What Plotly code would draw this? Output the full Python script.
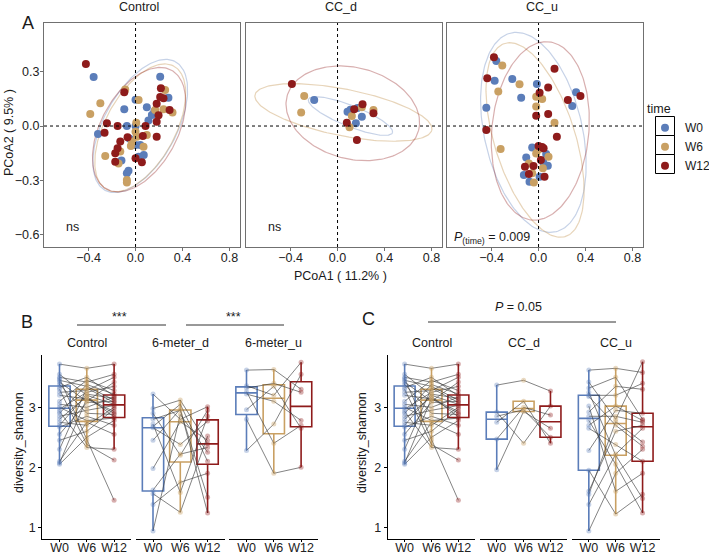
import numpy as np
import plotly.graph_objects as go

W, H = 709, 554
FONT = "Liberation Sans, Arial, sans-serif"
TIMES = ["W0", "W6", "W12"]
COLORS = ["#5B7DB9", "#C9A063", "#8E1B1B"]
ELL_COLORS = ["rgba(91,125,185,0.35)", "rgba(201,160,99,0.45)", "rgba(142,27,27,0.35)"]
PT_COLORS = ["rgba(91,125,185,0.35)", "rgba(201,160,99,0.4)", "rgba(142,27,27,0.35)"]

# ---------------- Panel A: PCoA ----------------
PCOA_GROUPS = ["Control", "CC_d", "CC_u"]

control_w0_x = [-0.357, -0.32, -0.074, 0.0, -0.096, 0.0, 0.096, 0.21, 0.28, 0.139, 0.11, 0.16, 0.0, 0.04, -0.06, -0.074, 0.026, 0.07, -0.12, -0.05]
control_w0_y = [0.27, -0.044, 0.0, 0.0, 0.092, 0.145, 0.103, 0.272, 0.156, 0.061, 0.03, 0.08, -0.105, -0.105, -0.246, -0.261, -0.169, -0.16, -0.19, -0.07]
control_w6_x = [-0.30, -0.386, -0.258, -0.088, 0.026, 0.252, 0.238, 0.315, 0.006, -0.04, 0.068, 0.0, -0.145, -0.074, -0.074, 0.096, 0.011, -0.13, 0.167, -0.03]
control_w6_y = [0.125, 0.066, -0.165, 0.202, 0.143, 0.198, 0.092, 0.074, 0.018, -0.11, -0.114, -0.031, -0.206, -0.298, -0.312, -0.05, -0.059, -0.14, 0.088, -0.086]
control_w12_x = [-0.423, -0.244, -0.264, -0.153, 0.085, -0.096, 0.216, 0.238, 0.29, 0.18, 0.196, 0.18, 0.18, -0.068, -0.13, -0.153, -0.173, -0.173, 0.0, 0.054, 0.062, 0.21]
control_w12_y = [0.342, 0.015, -0.037, 0.0, 0.0, 0.186, 0.208, 0.153, 0.088, 0.123, 0.06, 0.024, -0.059, -0.062, -0.086, -0.123, -0.15, -0.197, -0.178, -0.2, -0.055, 0.16]

ccd_w0_x = [-0.199, 0.085, 0.11, 0.207, 0.156, 0.17]
ccd_w0_y = [0.143, 0.079, 0.09, 0.051, 0.015, 0.1]
ccd_w6_x = [-0.284, -0.31, 0.207, 0.122, 0.306, 0.102]
ccd_w6_y = [0.165, 0.075, 0.103, 0.055, 0.088, -0.007]
ccd_w12_x = [-0.389, 0.142, 0.213, 0.306, 0.079, 0.165]
ccd_w12_y = [0.232, 0.092, 0.12, 0.07, 0.018, -0.077]

ccu_w0_x = [-0.36, -0.374, -0.224, -0.148, -0.445, -0.014, 0.32, 0.287, -0.054, 0.065, -0.105, 0.079, -0.125, -0.077, 0.009, 0.04]
ccu_w0_y = [0.358, 0.25, 0.259, 0.156, 0.101, 0.232, 0.186, 0.11, -0.118, -0.154, -0.173, -0.219, -0.27, -0.307, -0.279, -0.2]
ccu_w6_x = [-0.309, -0.162, -0.343, -0.02, 0.031, -0.02, 0.136, -0.323, -0.02, 0.085, -0.082, 0.037, -0.054, -0.04, 0.0]
ccu_w6_y = [0.333, 0.23, 0.191, 0.162, 0.149, 0.107, 0.018, -0.127, -0.151, -0.169, -0.206, -0.233, -0.261, -0.311, -0.13]
ccu_w12_x = [-0.38, -0.437, 0.136, 0.082, 0.009, -0.02, 0.082, 0.156, -0.445, 0.25, 0.357, 0.0, 0.043, 0.02, -0.116, -0.043, -0.082, 0.051, 0.03]
ccu_w12_y = [0.379, 0.263, 0.316, 0.213, 0.184, 0.057, 0.066, -0.059, -0.022, 0.143, 0.165, -0.11, -0.123, -0.188, -0.224, -0.221, -0.265, -0.279, -0.115]

# ellipse parameters: centre x, centre y, semi-axis a, semi-axis b, angle (deg)
control_ellipses = [(0.04, 0.0, 0.48, 0.26, 40), (0.04, -0.01, 0.46, 0.25, 40), (0.03, -0.02, 0.45, 0.27, 36)]
ccd_ellipses = [(0.11, 0.055, 0.37, 0.06, -14), (0.05, 0.075, 0.76, 0.13, -7), (0.13, 0.07, 0.572, 0.255, -6.3)]
ccu_ellipses = [(-0.044, -0.035, 0.59, 0.398, 118.8), (-0.03, -0.077, 0.60, 0.32, 122), (0.015, -0.027, 0.5, 0.408, 71.9)]

pcoa_pts = {
    "Control": [(control_w0_x, control_w0_y), (control_w6_x, control_w6_y), (control_w12_x, control_w12_y)],
    "CC_d": [(ccd_w0_x, ccd_w0_y), (ccd_w6_x, ccd_w6_y), (ccd_w12_x, ccd_w12_y)],
    "CC_u": [(ccu_w0_x, ccu_w0_y), (ccu_w6_x, ccu_w6_y), (ccu_w12_x, ccu_w12_y)],
}
pcoa_ell = {"Control": control_ellipses, "CC_d": ccd_ellipses, "CC_u": ccu_ellipses}
pcoa_notes = ["ns", "ns", "<i>P</i><sub>(time)</sub> = 0.009"]

# ---------------- Panels B / C: Shannon diversity ----------------
control_sh_w0 = [3.72, 3.55, 3.5, 3.48, 3.45, 3.42, 3.38, 3.33, 3.3, 3.25, 3.2, 3.1, 3.05, 3.0, 2.97, 2.93, 2.9, 2.85, 2.8, 2.75, 2.7, 2.67, 2.55, 2.45, 2.3, 2.1, 2.07, 2.05]
control_sh_w6 = [3.65, 3.2, 3.42, 2.45, 3.35, 3.1, 2.9, 3.5, 2.38, 3.28, 3.14, 3.45, 3.0, 2.78, 3.25, 2.33, 3.38, 2.95, 3.18, 2.7, 3.22, 2.85, 3.08, 2.6, 3.32, 2.75, 3.15, 2.5]
control_sh_w12 = [3.72, 3.05, 3.55, 1.45, 3.12, 3.42, 2.88, 3.19, 2.12, 3.5, 2.9, 3.28, 3.17, 2.82, 3.35, 2.3, 3.22, 3.03, 2.84, 3.0, 3.15, 2.7, 3.1, 2.97, 3.08, 2.55, 2.93, 2.78]

m6d_sh_w0 = [3.22, 2.98, 2.9, 2.8, 2.72, 2.68, 2.66, 2.45, 1.98, 1.62, 1.56, 1.38, 0.94]
m6d_sh_w6 = [2.8, 3.12, 2.2, 2.95, 1.58, 3.05, 2.38, 2.97, 2.76, 2.22, 1.25, 1.75, 2.88]
m6d_sh_w12 = [3.01, 2.39, 2.95, 1.5, 2.85, 2.1, 2.77, 1.24, 2.45, 2.33, 2.52, 1.9, 2.25]

m6u_sh_w0 = [3.62, 3.36, 3.32, 3.26, 3.22, 2.96, 2.8, 2.28]
m6u_sh_w6 = [3.63, 3.2, 3.4, 2.4, 3.1, 3.35, 1.9, 2.72]
m6u_sh_w12 = [3.3, 3.75, 3.25, 2.7, 2.78, 2.65, 2.0, 3.55]

ccd_sh_w0 = [3.37, 2.92, 2.85, 2.75, 2.47, 1.96]
ccd_sh_w6 = [3.45, 2.4, 2.96, 3.1, 3.0, 2.93]
ccd_sh_w12 = [3.27, 3.02, 2.5, 2.4, 2.87, 2.65]

ccu_sh_w0 = [3.62, 3.42, 3.32, 3.25, 3.2, 3.18, 3.02, 2.92, 2.85, 2.78, 2.7, 2.65, 2.28, 1.95, 1.6, 1.55, 1.38, 0.94]
ccu_sh_w6 = [3.65, 2.8, 3.5, 2.2, 3.2, 2.7, 1.6, 3.35, 2.85, 2.05, 3.02, 2.38, 2.95, 1.22, 2.6, 2.76, 2.22, 1.9]
ccu_sh_w12 = [3.58, 3.76, 2.8, 1.48, 3.4, 2.35, 1.9, 3.3, 2.75, 1.24, 2.78, 2.1, 2.9, 1.55, 2.7, 2.42, 2.65, 2.3]

B_FACETS = ["Control", "6-meter_d", "6-meter_u"]
C_FACETS = ["Control", "CC_d", "CC_u"]
shannon = {
    "B": [(control_sh_w0, control_sh_w6, control_sh_w12), (m6d_sh_w0, m6d_sh_w6, m6d_sh_w12), (m6u_sh_w0, m6u_sh_w6, m6u_sh_w12)],
    "C": [(control_sh_w0, control_sh_w6, control_sh_w12), (ccd_sh_w0, ccd_sh_w6, ccd_sh_w12), (ccu_sh_w0, ccu_sh_w6, ccu_sh_w12)],
}

# ---------------- layout geometry (pixels) ----------------
def px_x(p):
    return p / W

def px_y(p):
    return 1 - p / H

top_px = [(44, 240), (246, 442), (447, 643)]
top_y = (247, 23)
bot_px = {"B": [(42.3, 131.3), (135.8, 224.8), (229.3, 318.3)],
          "C": [(387.7, 475.3), (479.8, 567.4), (571.9, 659.5)]}
bot_y = (539.3, 355)

fig = go.Figure()
layout = dict(width=W, height=H, margin=dict(l=0, r=0, t=0, b=0, autoexpand=False), autosize=False,
              paper_bgcolor="white", plot_bgcolor="white",
              font=dict(family=FONT, size=12.5, color="#1a1a1a"),
              boxgap=0.2, shapes=[], annotations=[])

tickfont = dict(family=FONT, size=12.5, color="#222")


def note(text, x, y, size=12.5, **kw):
    d = dict(text=text, xref="paper", yref="paper", x=px_x(x), y=px_y(y), showarrow=False,
             xanchor="center", yanchor="middle", font=dict(size=size))
    d.update(kw)
    layout["annotations"].append(d)


# top panels
for i, grp in enumerate(PCOA_GROUPS):
    n = i + 1
    xa = "xaxis" if n == 1 else f"xaxis{n}"
    ya = "yaxis" if n == 1 else f"yaxis{n}"
    xr = "x" if n == 1 else f"x{n}"
    yr = "y" if n == 1 else f"y{n}"
    layout[xa] = dict(domain=[px_x(top_px[i][0]), px_x(top_px[i][1])], range=[-0.78, 0.89],
                      tickvals=[-0.4, 0, 0.4, 0.8], tickformat=".1f", showgrid=False, zeroline=False,
                      showline=True, mirror=True, linecolor="#707070", linewidth=1,
                      ticks="outside", ticklen=3, tickcolor="#707070", tickfont=tickfont,
                      ticklabelstandoff=-4, anchor=yr)
    layout[ya] = dict(domain=[px_y(top_y[0]), px_y(top_y[1])], range=[-0.667, 0.568],
                      tickvals=[-0.6, -0.3, 0, 0.3], tickformat=".1f", showgrid=False, zeroline=False,
                      showline=True, mirror=True, linecolor="#707070", linewidth=1,
                      ticks="outside" if n == 1 else "", ticklen=3, tickcolor="#707070",
                      showticklabels=(n == 1), tickfont=tickfont, ticklabelstandoff=-2, anchor=xr)
    # ellipses
    t = np.linspace(0, 2 * np.pi, 200)
    for k, (cx, cy, a, b, ang) in enumerate(pcoa_ell[grp]):
        th = np.deg2rad(ang)
        ex = cx + a * np.cos(t) * np.cos(th) - b * np.sin(t) * np.sin(th)
        ey = cy + a * np.cos(t) * np.sin(th) + b * np.sin(t) * np.cos(th)
        fig.add_trace(go.Scatter(x=ex, y=ey, mode="lines", line=dict(color=ELL_COLORS[k], width=1.2),
                                 xaxis=xr, yaxis=yr, showlegend=False, hoverinfo="skip"))
    for k, (xs, ys) in enumerate(pcoa_pts[grp]):
        fig.add_trace(go.Scatter(x=xs, y=ys, mode="markers", name=TIMES[k],
                                 marker=dict(color=COLORS[k], size=8),
                                 xaxis=xr, yaxis=yr, showlegend=(i == 0), legendgroup=TIMES[k]))
    # dotted zero lines
    layout["shapes"].append(dict(type="line", xref=xr, yref=f"{yr} domain", x0=0, x1=0, y0=0, y1=1,
                                 line=dict(color="black", width=1, dash="dot")))
    layout["shapes"].append(dict(type="line", xref=f"{xr} domain", yref=yr, x0=0, x1=1, y0=0, y1=0,
                                 line=dict(color="black", width=1, dash="dot")))
    note(grp, (top_px[i][0] + top_px[i][1]) / 2 - 3, 7)
    if i < 2:
        layout["annotations"].append(dict(text=pcoa_notes[i], xref=xr, yref=yr, x=-0.54, y=-0.555,
                                          xanchor="center", yanchor="middle",
                                          showarrow=False, font=dict(size=12.5)))
    else:
        layout["annotations"].append(dict(text=pcoa_notes[i], xref=xr, yref=yr, x=-0.735, y=-0.615,
                                          xanchor="left", yanchor="middle", showarrow=False,
                                          font=dict(size=12.5)))

# bottom panels
axis_n = 4
for panel in ["B", "C"]:
    facets = B_FACETS if panel == "B" else C_FACETS
    for f, fname in enumerate(facets):
        n = axis_n
        axis_n += 1
        xr, yr = f"x{n}", f"y{n}"
        layout[f"xaxis{n}"] = dict(domain=[px_x(bot_px[panel][f][0]), px_x(bot_px[panel][f][1])],
                                   type="category", categoryorder="array", categoryarray=TIMES,
                                   range=[-0.63, 2.63], showgrid=False, zeroline=False,
                                   showline=True, linecolor="black", linewidth=1,
                                   ticks="outside", ticklen=2, tickcolor="black", tickfont=tickfont,
                                   ticklabelstandoff=-5, anchor=yr)
        layout[f"yaxis{n}"] = dict(domain=[px_y(bot_y[0]), px_y(bot_y[1])], range=[0.8, 3.872],
                                   tickvals=[1, 2, 3], showgrid=False, zeroline=False,
                                   showline=(f == 0), linecolor="black", linewidth=1,
                                   ticks="outside" if f == 0 else "", ticklen=3, tickcolor="black",
                                   showticklabels=(f == 0), tickfont=tickfont, anchor=xr)
        vals = shannon[panel][f]
        for k in range(3):
            fig.add_trace(go.Box(x=[TIMES[k]] * len(vals[k]), y=vals[k], xaxis=xr, yaxis=yr,
                                 width=0.78, whiskerwidth=0, fillcolor="rgba(255,255,255,0)",
                                 line=dict(color=COLORS[k], width=1.6), boxpoints="outliers",
                                 marker=dict(color="rgba(0,0,0,0)", size=1),
                                 showlegend=False, hoverinfo="skip"))
        lx, ly = [], []
        for s in range(len(vals[0])):
            lx += [TIMES[0], TIMES[1], TIMES[2], None]
            ly += [vals[0][s], vals[1][s], vals[2][s], None]
        fig.add_trace(go.Scatter(x=lx, y=ly, mode="lines", line=dict(color="rgba(60,60,60,0.8)", width=0.8),
                                 xaxis=xr, yaxis=yr, showlegend=False, hoverinfo="skip", connectgaps=False))
        for k in range(3):
            fig.add_trace(go.Scatter(x=[TIMES[k]] * len(vals[k]), y=vals[k], mode="markers",
                                     marker=dict(color=PT_COLORS[k], size=5), xaxis=xr, yaxis=yr,
                                     showlegend=False))
        cx = (bot_px[panel][f][0] + bot_px[panel][f][1]) / 2
        note(fname, cx, 343)
    note("diversity_shannon", 19 if panel == "B" else 362, 443, textangle=-90)

# panel labels and axis titles
note("A", 27.5, 23, size=18)
note("B", 26.7, 321.5, size=18)
note("C", 368, 319, size=18)
note("PCoA1 ( 11.2% )", 340, 276)
note("PCoA2 ( 9.5% )", 9, 133, textangle=-90)
# significance
note("***", 120, 317)
note("***", 233, 317)
note("<i>P</i> = 0.05", 518, 307)
for x0, x1, y in [(77, 166, 325), (186, 284, 325), (428, 616, 322)]:
    layout["shapes"].append(dict(type="line", xref="paper", yref="paper", x0=px_x(x0), x1=px_x(x1),
                                 y0=px_y(y), y1=px_y(y), line=dict(color="#333", width=1)))

layout["legend"] = dict(x=px_x(645), y=px_y(97), xanchor="left", yanchor="top",
                        title=dict(text="time", font=dict(size=12.5)), font=dict(size=12),
                        bgcolor="rgba(0,0,0,0)", tracegroupgap=0, itemwidth=30)
# key boxes around legend symbols
for j in range(3):
    y0 = 116.5 + 19 * j
    layout["shapes"].append(dict(type="rect", xref="paper", yref="paper", x0=px_x(655.5), x1=px_x(674.5),
                                 y0=px_y(y0), y1=px_y(y0 + 19), line=dict(color="black", width=1)))

fig.update_layout(**layout)
fig.write_html("out.html")
